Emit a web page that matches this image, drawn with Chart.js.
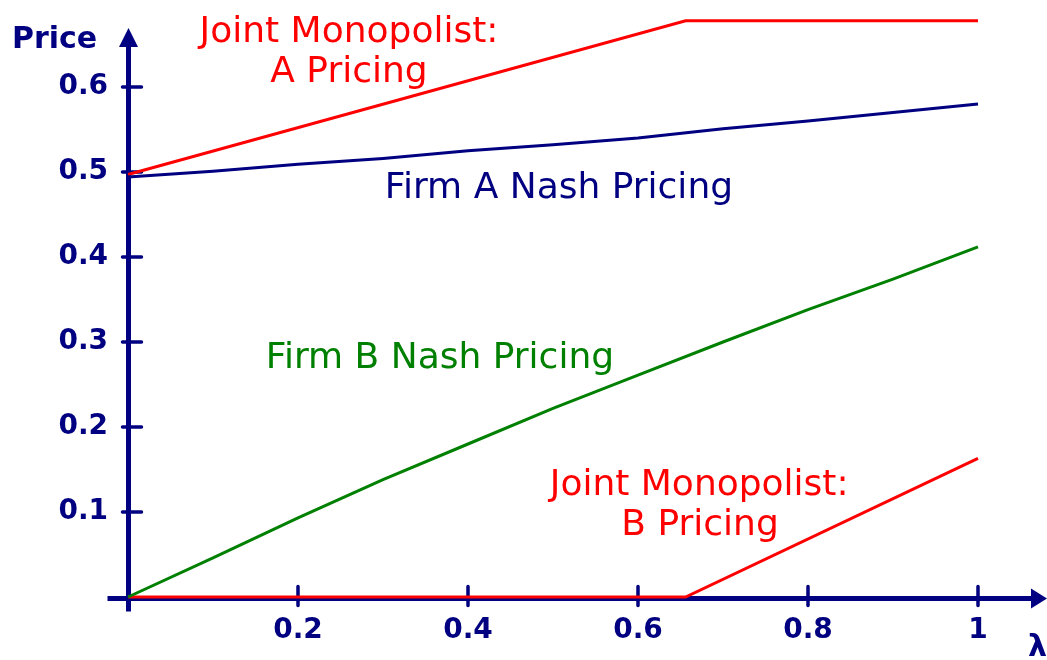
<!DOCTYPE html>
<html>
<head>
<meta charset="utf-8">
<script src="https://cdn.jsdelivr.net/npm/chart.js@4/dist/chart.umd.min.js"></script>
<style>
  html, body { margin: 0; padding: 0; background: #ffffff; }
  #wrap { width: 1047px; height: 660px; }
</style>
</head>
<body>
<div id="wrap"><canvas id="c" width="1047" height="660"></canvas></div>
<script>
// ---- data ----
const lambdaNash = [0, 0.1, 0.2, 0.3, 0.4, 0.5, 0.6, 0.7, 0.8, 0.9, 1.0];
const firmANash  = [0.494, 0.501, 0.509, 0.516, 0.525, 0.532, 0.540, 0.551, 0.560, 0.570, 0.580];
const firmBNash  = [0, 0.046, 0.093, 0.138, 0.180, 0.222, 0.261, 0.300, 0.338, 0.374, 0.412];
const lambdaMono = [0, 0.656, 1.0];
const monoA      = [0.497, 0.678, 0.678];
const monoB      = [0, 0, 0.163];
const xTickValues = [0.2, 0.4, 0.6, 0.8, 1];
const xTickLabels = ['0.2', '0.4', '0.6', '0.8', '1'];
const yTickValues = [0.1, 0.2, 0.3, 0.4, 0.5, 0.6];
const yTickLabels = ['0.1', '0.2', '0.3', '0.4', '0.5', '0.6'];
const annotations = [
  { text: 'Joint Monopolist:', x: 0.26,  y: 0.653, color: '#ff0000' },
  { text: 'A Pricing',         x: 0.26,  y: 0.606, color: '#ff0000' },
  { text: 'Firm A Nash Pricing', x: 0.507, y: 0.469, color: '#000080' },
  { text: 'Firm B Nash Pricing', x: 0.367, y: 0.269, color: '#008000' },
  { text: 'Joint Monopolist:', x: 0.672, y: 0.120, color: '#ff0000' },
  { text: 'B Pricing',         x: 0.673, y: 0.073, color: '#ff0000' }
];
const yAxisTitle = 'Price';
const xAxisTitle = 'λ';

const NAVY = '#000080';
const pts = (xs, ys) => xs.map((x, i) => ({ x: x, y: ys[i] }));

const axesPlugin = {
  id: 'axesPlugin',
  beforeDatasetsDraw(chart) {
    const ctx = chart.ctx, xs = chart.scales.x, ys = chart.scales.y;
    const x0 = xs.getPixelForValue(0) + 0.5;
    const y0 = ys.getPixelForValue(0) + 1.5;
    ctx.save();
    ctx.strokeStyle = NAVY; ctx.fillStyle = NAVY;
    // axis lines
    ctx.lineWidth = 5;
    ctx.beginPath();
    ctx.moveTo(x0, y0 + 13); ctx.lineTo(x0, 42);
    ctx.moveTo(x0 - 21, y0); ctx.lineTo(1034, y0);
    ctx.stroke();
    // arrowheads
    ctx.beginPath();
    ctx.moveTo(x0, 28); ctx.lineTo(x0 - 9.5, 47); ctx.lineTo(x0 + 9.5, 47); ctx.closePath();
    ctx.fill();
    ctx.beginPath();
    ctx.moveTo(1047, y0); ctx.lineTo(1031, y0 - 10); ctx.lineTo(1031, y0 + 10); ctx.closePath();
    ctx.fill();
    // tick marks
    ctx.lineWidth = 3.5; ctx.lineCap = 'round';
    ctx.beginPath();
    yTickValues.forEach(v => {
      const p = ys.getPixelForValue(v);
      ctx.moveTo(x0 - 6, p); ctx.lineTo(x0 + 13, p);
    });
    xTickValues.forEach(v => {
      const p = xs.getPixelForValue(v);
      ctx.moveTo(p, y0 - 12); ctx.lineTo(p, y0 + 7);
    });
    ctx.stroke();
    // axis titles
    ctx.textAlign = 'left'; ctx.textBaseline = 'alphabetic';
    ctx.font = 'bold 30px "DejaVu Sans"';
    ctx.fillText(yAxisTitle, 12, 48);
    ctx.textAlign = 'right';
    ctx.fillText(xAxisTitle, 1047, 656);
    ctx.restore();
  },
  afterDatasetsDraw(chart) {
    const ctx = chart.ctx, xs = chart.scales.x, ys = chart.scales.y;
    ctx.save();
    ctx.font = '36px "DejaVu Sans"';
    ctx.textAlign = 'center'; ctx.textBaseline = 'alphabetic';
    annotations.forEach(a => {
      ctx.fillStyle = a.color;
      ctx.fillText(a.text, xs.getPixelForValue(a.x), ys.getPixelForValue(a.y));
    });
    ctx.restore();
  }
};

const lineDs = (label, data, color) => ({
  label, data, borderColor: color, backgroundColor: color, borderWidth: 3,
  pointRadius: 0, showLine: true, fill: false, tension: 0, clip: false
});

const zeroPad = s => { s.paddingTop = 0; s.paddingBottom = 0; s.paddingLeft = 0; s.paddingRight = 0; };

new Chart(document.getElementById('c'), {
  type: 'scatter',
  data: {
    datasets: [
      lineDs('Firm B Nash Pricing', pts(lambdaNash, firmBNash), '#008000'),
      lineDs('Firm A Nash Pricing', pts(lambdaNash, firmANash), NAVY),
      lineDs('Joint Monopolist: A Pricing', pts(lambdaMono, monoA), '#ff0000'),
      lineDs('Joint Monopolist: B Pricing', pts(lambdaMono, monoB), '#ff0000')
    ]
  },
  options: {
    responsive: false,
    devicePixelRatio: 1,
    animation: false,
    layout: { padding: { top: 2, right: 69, left: 0, bottom: 0 } },
    plugins: { legend: { display: false }, tooltip: { enabled: false } },
    scales: {
      x: {
        type: 'linear', min: 0, max: 1,
        grid: { display: false, drawTicks: false }, border: { display: false },
        afterBuildTicks: s => { s.ticks = xTickValues.map(v => ({ value: v })); },
        ticks: {
          autoSkip: false, maxRotation: 0, padding: 17, color: NAVY,
          font: { family: '"DejaVu Sans"', size: 28, weight: 'bold' },
          callback: (v) => xTickLabels[xTickValues.indexOf(v)]
        },
        afterFit: s => { s.height = 63; zeroPad(s); }
      },
      y: {
        type: 'linear', min: 0, max: 0.7,
        grid: { display: false, drawTicks: false }, border: { display: false },
        afterBuildTicks: s => { s.ticks = yTickValues.map(v => ({ value: v })); },
        ticks: {
          autoSkip: false, padding: 20, color: NAVY,
          font: { family: '"DejaVu Sans"', size: 28, weight: 'bold' },
          callback: (v) => yTickLabels[yTickValues.indexOf(v)]
        },
        afterFit: s => { s.width = 128; zeroPad(s); }
      }
    }
  },
  plugins: [axesPlugin]
});
</script>
</body>
</html>
